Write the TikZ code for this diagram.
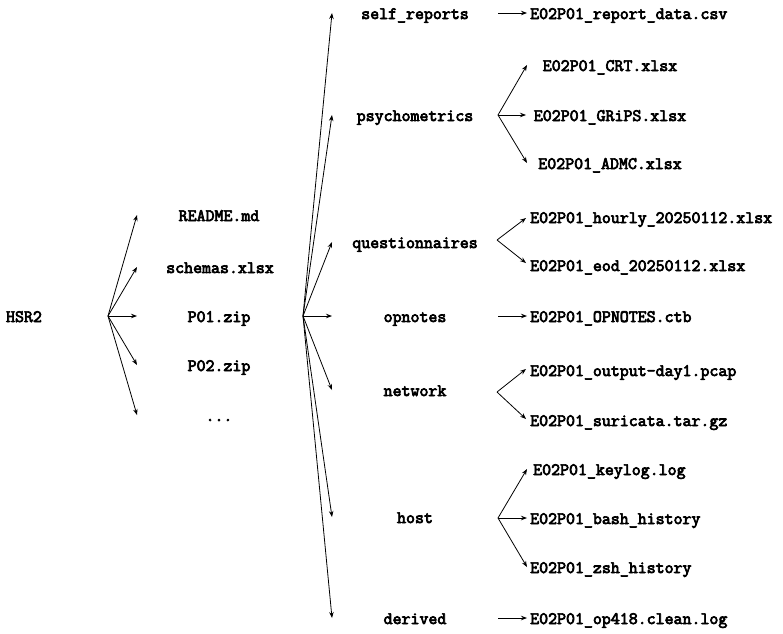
\documentclass[tikz,border=0pt]{standalone}
\usepackage{fontspec}
\newfontfamily\ttbold{Latin Modern Mono}[FakeBold=4]
\usetikzlibrary{arrows.meta}
\begin{document}
\begin{tikzpicture}[x=1pt,y=-1pt,
  lbl/.style={font=\ttbold\fontsize{17.4}{20}\selectfont, inner sep=0pt, anchor=base},
  lblw/.style={lbl, anchor=base west},
  arr/.style={-{Stealth[length=6pt,width=4.5pt]}, line width=0.8pt}]
\useasboundingbox (0,0) rectangle (783,633);
% root
\node[lbl] (hsr) at (24,322) {HSR2};
\coordinate (f0) at (108,316);
% level 1
\node[lbl] (readme) at (219,221) {README.md};
\node[lbl] (schemas) at (220,273) {schemas.xlsx};
\node[lbl] (p01) at (219,322) {P01.zip};
\node[lbl] (p02) at (219,371) {P02.zip};
\node[lbl] (dots) at (219,421) {...};
\coordinate (t1) at (137,215);
\coordinate (t2) at (137,267);
\coordinate (t3) at (137,316);
\coordinate (t4) at (137,365);
\coordinate (t5) at (137,415);
\foreach \t in {t1,t2,t3,t4,t5} \draw[arr] (f0) -- (\t);
% level 2
\coordinate (f1) at (303,316);
\node[lbl] (self) at (415,19) {self\_reports};
\node[lbl] (psy) at (415,121) {psychometrics};
\node[lbl] (que) at (415,248) {questionnaires};
\node[lbl] (opn) at (415,322) {opnotes};
\node[lbl] (net) at (415,396) {network};
\node[lbl] (host) at (415,523) {host};
\node[lbl] (der) at (415,624) {derived};
\coordinate (s1) at (332,13);
\coordinate (s2) at (332,115);
\coordinate (s3) at (332,242);
\coordinate (s4) at (332,316);
\coordinate (s5) at (332,390);
\coordinate (s6) at (332,517);
\coordinate (s7) at (332,618);
\foreach \t in {s1,s2,s3,s4,s5,s6,s7} \draw[arr] (f1) -- (\t);
% level 3 : self_reports
\coordinate (g1) at (498,13);
\node[lblw] (rep) at (530,19) {E02P01\_report\_data.csv};
\coordinate (u1) at (527,13);
\draw[arr] (g1) -- (u1);
% psychometrics
\coordinate (g2) at (498,115);
\node[lbl] (crt) at (610,71) {E02P01\_CRT.xlsx};
\node[lbl] (grips) at (610,121) {E02P01\_GRiPS.xlsx};
\node[lbl] (admc) at (610,169) {E02P01\_ADMC.xlsx};
\coordinate (u2) at (527,65);
\coordinate (u3) at (526,115);
\coordinate (u4) at (527,163);
\foreach \t in {u2,u3,u4} \draw[arr] (g2) -- (\t);
% questionnaires
\coordinate (g3) at (497,240);
\node[lblw] (hour) at (530,223) {E02P01\_hourly\_20250112.xlsx};
\node[lblw] (eod) at (530,271) {E02P01\_eod\_20250112.xlsx};
\coordinate (u5) at (526,218);
\coordinate (u6) at (526,263);
\foreach \t in {u5,u6} \draw[arr] (g3) -- (\t);
% opnotes
\coordinate (g4) at (498,316);
\node[lblw] (opf) at (530,322) {E02P01\_OPNOTES.ctb};
\coordinate (u7) at (527,316);
\draw[arr] (g4) -- (u7);
% network
\coordinate (g5) at (497,392);
\node[lblw] (pcap) at (530,376) {E02P01\_output-day1.pcap};
\node[lblw] (suri) at (530,426) {E02P01\_suricata.tar.gz};
\coordinate (u8) at (526,369);
\coordinate (u9) at (526,419);
\foreach \t in {u8,u9} \draw[arr] (g5) -- (\t);
% host
\coordinate (g6) at (498,518);
\node[lblw] (key) at (533,475) {E02P01\_keylog.log};
\node[lblw] (bash) at (530,524) {E02P01\_bash\_history};
\node[lblw] (zsh) at (530,573) {E02P01\_zsh\_history};
\coordinate (u10) at (527,469);
\coordinate (u11) at (527,518);
\coordinate (u12) at (527,567);
\foreach \t in {u10,u11,u12} \draw[arr] (g6) -- (\t);
% derived
\coordinate (g7) at (498,618);
\node[lblw] (op) at (530,624) {E02P01\_op418.clean.log};
\coordinate (u13) at (527,618);
\draw[arr] (g7) -- (u13);
\end{tikzpicture}
\end{document}
